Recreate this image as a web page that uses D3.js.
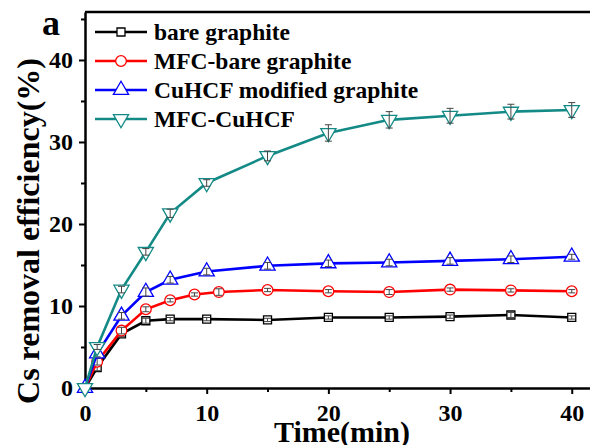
<!DOCTYPE html>
<html><head><meta charset="utf-8">
<script src="https://cdn.jsdelivr.net/npm/d3@7/dist/d3.min.js"></script>
<style>
html,body{margin:0;padding:0;background:#fff;}
svg{display:block;font-family:"Liberation Serif","Times New Roman",serif;font-weight:bold;}
</style></head><body>
<svg id="chart" width="590" height="445"></svg>
<script>
// ---- data ----
const seriesNames = ["bare graphite", "MFC-bare graphite", "CuHCF modified graphite", "MFC-CuHCF"];
const seriesColors = ["#000000", "#ff0000", "#0000ff", "#138a86"];
const seriesSymbols = ["square", "circle", "triangle", "triangleDown"];

const xBare = [0, 1, 3, 5, 7, 10, 15, 20, 25, 30, 35, 40];
const yBare = [0, 2.5, 6.6, 8.2, 8.4, 8.4, 8.3, 8.6, 8.6, 8.7, 8.9, 8.6];
const eBare = [0, 0.4, 0.3, 0.3, 0.2, 0.2, 0.2, 0.2, 0.2, 0.2, 0.3, 0.2];

const xMfcBare = [0, 1, 3, 5, 7, 9, 11, 15, 20, 25, 30, 35, 40];
const yMfcBare = [0, 3.2, 7.0, 9.6, 10.7, 11.4, 11.7, 11.95, 11.8, 11.7, 12.0, 11.9, 11.8];
const eMfcBare = [0, 0.4, 0.4, 0.3, 0.2, 0.2, 0.4, 0.2, 0.2, 0.3, 0.2, 0.2, 0.2];

const xCuhcf = [0, 1, 3, 5, 7, 10, 15, 20, 25, 30, 35, 40];
const yCuhcf = [0, 4.2, 8.8, 11.7, 13.2, 14.2, 14.9, 15.2, 15.3, 15.5, 15.7, 16.0];
const eCuhcf = [0, 0.4, 0.4, 0.5, 0.4, 0.4, 0.4, 0.4, 0.4, 0.4, 0.4, 0.3];

const xMfcCuhcf = [0, 1, 3, 5, 7, 10, 15, 20, 25, 30, 35, 40];
const yMfcCuhcf = [0, 5.0, 12.0, 16.6, 21.3, 25.0, 28.3, 31.1, 32.7, 33.2, 33.7, 33.9];
const eMfcCuhcf = [0, 0.3, 0.4, 0.4, 0.5, 0.4, 0.6, 1.0, 1.0, 0.9, 0.9, 0.9];

const xTicks = [0, 10, 20, 30, 40];
const xMinorTicks = [5, 15, 25, 35];
const yTicks = [0, 10, 20, 30, 40];
const yMinorTicks = [5, 15, 25, 35, 45];

const xTitle = "Time(min)";
const yTitle = "Cs removal efficiency(%)";
const panelLabel = "a";

// ---- chart ----
const series = [
  {x: xBare, y: yBare, e: eBare},
  {x: xMfcBare, y: yMfcBare, e: eMfcBare},
  {x: xCuhcf, y: yCuhcf, e: eCuhcf},
  {x: xMfcCuhcf, y: yMfcCuhcf, e: eMfcCuhcf}
].map((s, i) => ({...s, name: seriesNames[i], color: seriesColors[i], sym: seriesSymbols[i],
  pts: s.x.map((xv, j) => ({x: xv, y: s.y[j], e: s.e[j]}))}));

const svg = d3.select("#chart");
const mLeft = 85, mRight = 590, mTop = 12, mBottom = 388;
const x = d3.scaleLinear().domain([0, 41.5]).range([mLeft, mRight]);
const y = d3.scaleLinear().domain([0, 45.85]).range([mBottom, mTop]);

function symbolPath(kind, size) {
  const map = {square: d3.symbolSquare, circle: d3.symbolCircle, triangle: d3.symbolTriangle, triangleDown: d3.symbolTriangle};
  return d3.symbol().type(map[kind]).size(size)();
}
const symSize = {square: 64, circle: 90, triangle: 100, triangleDown: 100};

// frame top line
svg.append("line").attr("x1", mLeft).attr("x2", mRight).attr("y1", mTop).attr("y2", mTop)
  .attr("stroke", "#000").attr("stroke-width", 2.5);

// axes
svg.append("g").attr("transform", `translate(0,${mBottom})`)
  .call(d3.axisBottom(x).tickValues(xTicks).tickSize(6).tickSizeOuter(0).tickPadding(10).tickFormat(d3.format("d")));
const xMinor = svg.append("g").attr("transform", `translate(0,${mBottom})`)
  .call(d3.axisBottom(x).tickValues(xMinorTicks).tickSize(4).tickSizeOuter(0).tickFormat(""));
xMinor.select(".domain").remove();
svg.append("g").attr("transform", `translate(${mLeft},0)`)
  .call(d3.axisLeft(y).tickValues(yTicks).tickSize(6).tickSizeOuter(0).tickPadding(6).tickFormat(d3.format("d")));
const yMinor = svg.append("g").attr("transform", `translate(${mLeft},0)`)
  .call(d3.axisLeft(y).tickValues(yMinorTicks).tickSize(4).tickSizeOuter(0).tickFormat(""));
yMinor.select(".domain").remove();

svg.selectAll(".domain").attr("stroke", "#000").attr("stroke-width", 2.5);
svg.selectAll(".tick line").attr("stroke", "#000").attr("stroke-width", 2);
svg.selectAll(".tick text").attr("font-family", "Liberation Serif, serif").attr("font-weight", "bold")
  .attr("font-size", 24).attr("fill", "#000");

// titles
svg.append("text").attr("x", 342).attr("y", 442).attr("text-anchor", "middle")
  .attr("font-size", 30).attr("font-weight", "bold").text(xTitle);
svg.append("text").attr("transform", "translate(39,231) rotate(-90)").attr("text-anchor", "middle")
  .attr("font-size", 32).attr("font-weight", "bold").text(yTitle);
svg.append("text").attr("x", 42).attr("y", 35).attr("font-size", 36).attr("font-weight", "bold").text(panelLabel);

// lines
const line = d3.line().x(d => x(d.x)).y(d => y(d.y));
const plot = svg.append("g");
series.forEach(s => {
  const g = plot.append("g");
  g.append("path").datum(s.pts).attr("d", line).attr("fill", "none")
    .attr("stroke", s.color).attr("stroke-width", 2.6);
  g.selectAll("path.m").data(s.pts).enter().append("path").attr("class", "m")
    .attr("d", symbolPath(s.sym, symSize[s.sym]))
    .attr("transform", d => `translate(${x(d.x)},${y(d.y)})` + (s.sym === "triangleDown" ? " rotate(180)" : ""))
    .attr("fill", "#fff").attr("stroke", s.color).attr("stroke-width", 1.3);
  const eb = g.selectAll("g.eb").data(s.pts.filter(d => d.e > 0)).enter().append("g").attr("class", "eb")
    .attr("stroke", "#444").attr("stroke-width", 1);
  eb.append("line").attr("x1", d => x(d.x)).attr("x2", d => x(d.x))
    .attr("y1", d => y(d.y + d.e)).attr("y2", d => y(d.y - d.e));
  eb.append("line").attr("x1", d => x(d.x) - 3.5).attr("x2", d => x(d.x) + 3.5)
    .attr("y1", d => y(d.y + d.e)).attr("y2", d => y(d.y + d.e));
  eb.append("line").attr("x1", d => x(d.x) - 3.5).attr("x2", d => x(d.x) + 3.5)
    .attr("y1", d => y(d.y - d.e)).attr("y2", d => y(d.y - d.e));
});

// legend
const leg = svg.append("g");
series.forEach((s, i) => {
  const cy = 32 + i * 29;
  leg.append("line").attr("x1", 95).attr("x2", 147).attr("y1", cy).attr("y2", cy)
    .attr("stroke", s.color).attr("stroke-width", 2.6);
  leg.append("path").attr("d", symbolPath(s.sym, symSize[s.sym]))
    .attr("transform", `translate(121,${cy})` + (s.sym === "triangleDown" ? " rotate(180)" : ""))
    .attr("fill", "#fff").attr("stroke", s.color).attr("stroke-width", 1.3);
  leg.append("text").attr("x", 154).attr("y", cy).attr("dy", "0.35em")
    .attr("font-size", 23.5).attr("font-weight", "bold").text(s.name);
});
</script>
</body></html>
